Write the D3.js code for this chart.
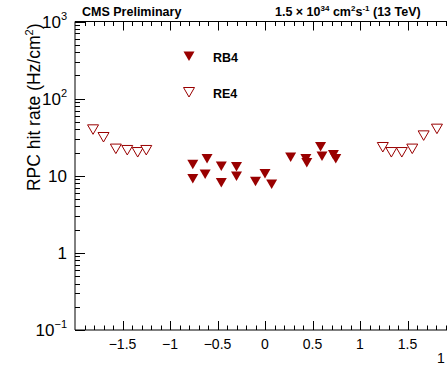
<!DOCTYPE html>
<html>
<head>
<meta charset="utf-8">
<script src="https://cdn.jsdelivr.net/npm/d3@7"></script>
<style>
  body { margin: 0; background: #fff; }
  text { font-family: "Liberation Sans", Arial, Helvetica, sans-serif; }
</style>
</head>
<body>
<svg id="chart" width="447" height="366"></svg>
<script>
// barrel station RB4 (filled markers)
const rb4Eta = [-0.76, -0.61, -0.46, -0.30, -0.76, -0.63, -0.46, -0.30, -0.10, 0.0, 0.07, 0.27, 0.43, 0.44, 0.585, 0.60, 0.72, 0.745];
const rb4Rate = [14.1, 16.7, 13.4, 13.2, 9.2, 10.5, 8.2, 9.9, 8.5, 10.7, 7.8, 17.5, 16.7, 14.8, 23.9, 18.0, 18.8, 16.7];

// endcap station RE4 (open markers)
const re4Eta = [-1.81, -1.70, -1.57, -1.45, -1.34, -1.25, 1.24, 1.33, 1.44, 1.55, 1.67, 1.81];
const re4Rate = [40.0, 31.8, 22.5, 21.6, 20.3, 21.6, 23.6, 20.3, 20.3, 22.5, 33.4, 40.8];

const xTicks = [-1.5, -1, -0.5, 0, 0.5, 1, 1.5];
const yDecades = [-1, 0, 1, 2, 3];

const svg = d3.select("#chart");
const pLeft = 75, pRight = 455, pTop = 21.5, pBottom = 330;

const x = d3.scaleLinear().domain([-2, 2]).range([pLeft, pRight]);
const y = d3.scaleLog().domain([0.1, 1000]).range([pBottom, pTop]);

const col = "#990000";

// frame
svg.append("line").attr("x1", pLeft).attr("x2", pLeft).attr("y1", pTop).attr("y2", pBottom)
  .attr("stroke", "#000");
svg.append("line").attr("x1", pLeft).attr("x2", pRight).attr("y1", pBottom).attr("y2", pBottom)
  .attr("stroke", "#000");
svg.append("line").attr("x1", pLeft).attr("x2", pRight).attr("y1", pTop).attr("y2", pTop)
  .attr("stroke", "#000");

// x ticks (bottom + mirrored top)
const xMinor = d3.range(-19, 20).map(d => d / 10);
xMinor.forEach(v => {
  const major = Math.abs(v * 2 - Math.round(v * 2)) < 1e-6;
  const len = major ? 9 : 4.5;
  const px = Math.round(x(v)) + 0.5;
  svg.append("line").attr("x1", px).attr("x2", px).attr("y1", pBottom).attr("y2", pBottom - len)
    .attr("stroke", "#000");
  svg.append("line").attr("x1", px).attr("x2", px).attr("y1", pTop).attr("y2", pTop + len)
    .attr("stroke", "#000");
});

svg.selectAll(".xl").data(xTicks).enter().append("text")
  .attr("x", d => x(d)).attr("y", 349)
  .attr("text-anchor", "middle").attr("font-size", 14)
  .text(d => d3.format("")(d).replace("-", "\u2212"));

// y ticks (log)
yDecades.forEach(e => {
  const base = Math.pow(10, e);
  const py = Math.round(y(base)) + 0.5;
  svg.append("line").attr("x1", pLeft).attr("x2", pLeft + 10).attr("y1", py).attr("y2", py)
    .attr("stroke", "#000");
  if (e < 3) {
    d3.range(2, 10).forEach(k => {
      const my = Math.round(y(base * k)) + 0.5;
      svg.append("line").attr("x1", pLeft).attr("x2", pLeft + 5).attr("y1", my).attr("y2", my)
        .attr("stroke", "#000");
    });
  }
});

// y labels
yDecades.forEach(e => {
  const t = svg.append("text").attr("x", 67).attr("y", y(Math.pow(10, e)) + 6)
    .attr("text-anchor", "end").attr("font-size", 17);
  if (e === 0) t.text("1");
  else if (e === 1) t.text("10");
  else {
    t.append("tspan").text("10");
    t.append("tspan").attr("font-size", 11).attr("dy", -8).text(e === -1 ? "\u22121" : e);
  }
});

// y title, aligned to the top of the axis
svg.append("text")
  .attr("transform", `translate(40,${pTop + 2}) rotate(-90)`)
  .attr("text-anchor", "end").attr("font-size", 17.5)
  .call(t => {
    t.append("tspan").text("RPC hit rate (Hz/cm");
    t.append("tspan").attr("font-size", 11).attr("dy", -7).text("2");
    t.append("tspan").attr("dy", 7).text(")");
  });

// x title (only its start shows at the right edge)
svg.append("text").attr("x", 437).attr("y", 363).attr("font-size", 14).text("1");

// header
svg.append("text").attr("x", 82).attr("y", 16).attr("font-size", 12.5).attr("font-weight", "bold")
  .text("CMS Preliminary");
svg.append("text").attr("x", 275).attr("y", 16).attr("font-size", 12.5).attr("font-weight", "bold")
  .call(t => {
    t.append("tspan").text("1.5 \u00d7 10");
    t.append("tspan").attr("font-size", 8).attr("dy", -5).text("34");
    t.append("tspan").attr("dy", 5).text(" cm");
    t.append("tspan").attr("font-size", 8).attr("dy", -5).text("2");
    t.append("tspan").attr("dy", 5).text("s");
    t.append("tspan").attr("font-size", 8).attr("dy", -5).text("-1");
    t.append("tspan").attr("dy", 5).text(" (13 TeV)");
  });

const tri = "M-5.5,-4.5L5.5,-4.5L0,5Z";

// markers
svg.selectAll(".re4").data(re4Eta).enter().append("path")
  .attr("d", tri)
  .attr("transform", (d, i) => `translate(${x(d)},${y(re4Rate[i])})`)
  .attr("fill", "#fff").attr("stroke", col).attr("stroke-width", 1);

svg.selectAll(".rb4").data(rb4Eta).enter().append("path")
  .attr("d", tri)
  .attr("transform", (d, i) => `translate(${x(d)},${y(rb4Rate[i])})`)
  .attr("fill", col);

// legend
svg.append("path").attr("d", tri).attr("transform", "translate(189,56)").attr("fill", col);
svg.append("path").attr("d", tri).attr("transform", "translate(189,92)")
  .attr("fill", "#fff").attr("stroke", col);
svg.append("text").attr("x", 213).attr("y", 62).attr("font-size", 12.5).attr("font-weight", "bold").text("RB4");
svg.append("text").attr("x", 213).attr("y", 98).attr("font-size", 12.5).attr("font-weight", "bold").text("RE4");
</script>
</body>
</html>
